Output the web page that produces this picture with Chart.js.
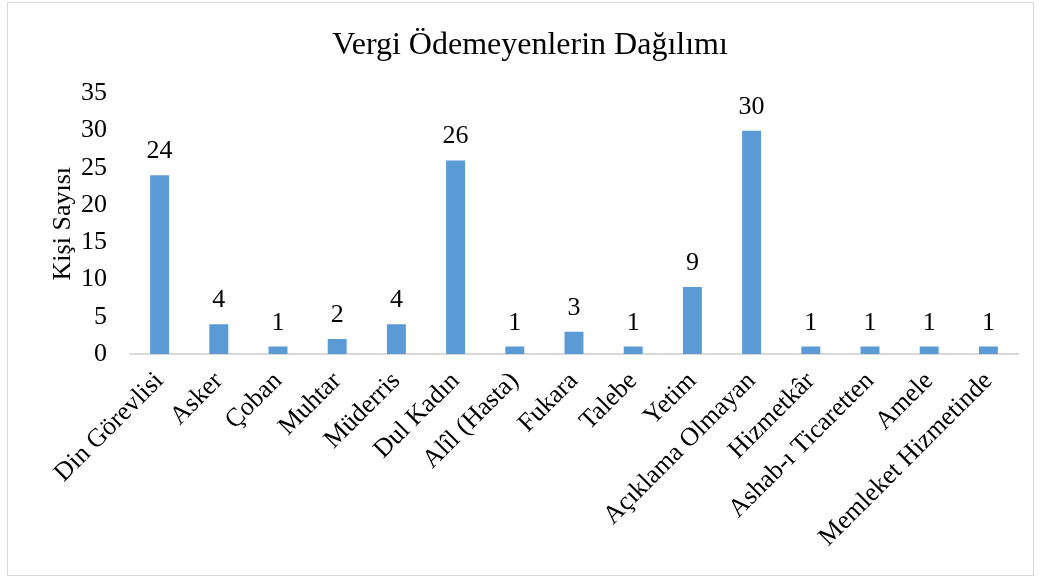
<!DOCTYPE html>
<html>
<head>
<meta charset="utf-8">
<script src="https://cdn.jsdelivr.net/npm/chart.js@4/dist/chart.umd.min.js"></script>
<style>
  html, body { margin: 0; padding: 0; background: #fff; }
  #wrap { position: relative; width: 1043px; height: 578px; }
  #frame { position: absolute; left: 7px; top: 2px; width: 1027px; height: 574px; border: 1px solid #d9d9d9; box-sizing: border-box; pointer-events: none; }
</style>
</head>
<body>
<div id="wrap">
  <canvas id="chart"></canvas>
  <div id="frame"></div>
</div>
<script>
  'use strict';

  const categories = [
    'Din Görevlisi', 'Asker', 'Çoban', 'Muhtar', 'Müderris', 'Dul Kadın',
    'Alîl (Hasta)', 'Fukara', 'Talebe', 'Yetim', 'Açıklama Olmayan',
    'Hizmetkâr', 'Ashab-ı Ticaretten', 'Amele', 'Memleket Hizmetinde'
  ];
  const counts = [24, 4, 1, 2, 4, 26, 1, 3, 1, 9, 30, 1, 1, 1, 1];
  const yTicks = [0, 5, 10, 15, 20, 25, 30, 35];

  const FONT = '"Liberation Serif", "Times New Roman", serif';
  const INK = '#000';

  // value labels above each bar
  const barValues = {
    id: 'barValues',
    afterDatasetsDraw(chart) {
      const ctx = chart.ctx;
      const meta = chart.getDatasetMeta(0);
      ctx.save();
      ctx.font = '26px ' + FONT;
      ctx.fillStyle = INK;
      ctx.textAlign = 'center';
      ctx.textBaseline = 'alphabetic';
      meta.data.forEach((bar, i) => {
        ctx.fillText(String(counts[i]), bar.x, bar.y - 17);
      });
      ctx.restore();
    }
  };

  new Chart(document.getElementById('chart'), {
    type: 'bar',
    data: {
      labels: categories,
      datasets: [{
        label: 'Kişi Sayısı',
        data: counts,
        backgroundColor: '#5b9bd5',
        borderWidth: 0,
        barPercentage: 0.32,
        categoryPercentage: 1
      }]
    },
    options: {
      responsive: true,
      maintainAspectRatio: false,
      animation: false,
      layout: { padding: { left: 42, right: 25, top: 10, bottom: 4 } },
      plugins: {
        legend: { display: false },
        tooltip: { enabled: false },
        title: {
          display: true,
          text: 'Vergi Ödemeyenlerin Dağılımı',
          color: INK,
          font: { family: FONT, size: 32, weight: 'normal', lineHeight: 1.2 },
          padding: { top: 16, bottom: 29 }
        }
      },
      scales: {
        x: {
          grid: { display: false, drawTicks: false },
          border: { display: true, color: '#d9d9d9', width: 2 },
          ticks: {
            color: INK,
            font: { family: FONT, size: 26 },
            minRotation: 45,
            maxRotation: 45,
            autoSkip: false,
            padding: 12
          },
          afterFit(scale) { scale.height = 220; }
        },
        y: {
          min: 0,
          max: 35,
          afterBuildTicks(scale) { scale.ticks = yTicks.map(v => ({ value: v })); },
          grid: { display: false, drawTicks: false },
          border: { display: false },
          ticks: {
            color: INK,
            font: { family: FONT, size: 26 },
            padding: 23
          },
          title: {
            display: true,
            text: 'Kişi Sayısı',
            color: INK,
            font: { family: FONT, size: 26 },
            padding: { top: 6, bottom: 0 }
          },
          afterFit(scale) { scale.width = 88; }
        }
      }
    },
    plugins: [barValues]
  });
</script>
</body>
</html>
